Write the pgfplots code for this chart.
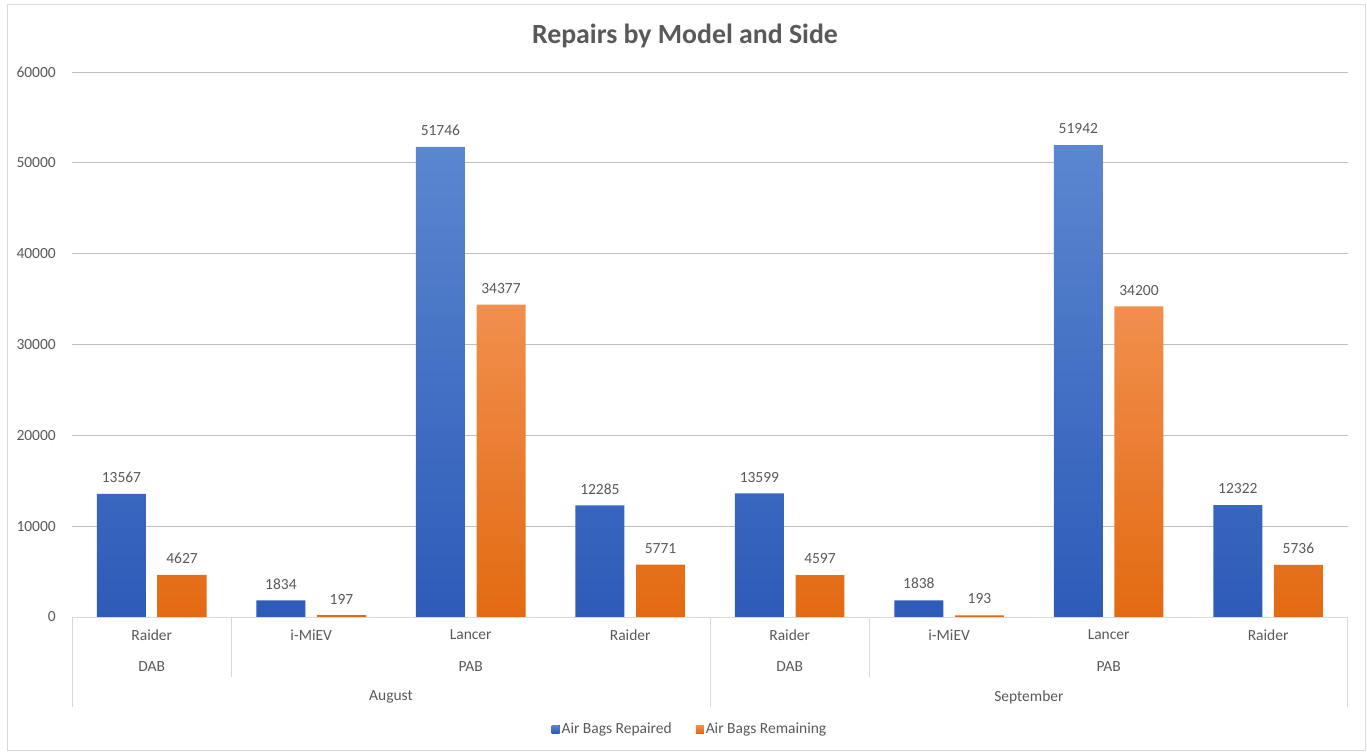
\documentclass[border=0pt]{standalone}
\usepackage{pgfplots}
\pgfplotsset{compat=1.18}
\usepackage{fontspec}
\setmainfont{Carlito}

\definecolor{txt}{HTML}{595959}
\definecolor{grid}{HTML}{D9D9D9}
\definecolor{blueT}{HTML}{5B86D0}
\definecolor{blueB}{HTML}{2D5BB8}
\definecolor{orT}{HTML}{F18F4E}
\definecolor{orB}{HTML}{E36A12}
\tikzset{cat/.style={text=txt}, sep/.style={draw=grid, line width=0.8pt}}

\begin{document}
\begin{tikzpicture}
\useasboundingbox (-72pt,-138pt) rectangle (1295pt,617pt);
\draw[grid,line width=0.8pt] (-65pt,-133pt) rectangle (1293pt,613pt);
\begin{axis}[
  scale only axis,
  width=1276pt, height=545pt,
  xmin=-0.5, xmax=7.5,
  ymin=0, ymax=60000,
  ytick={0,10000,...,60000},
  scaled y ticks=false,
  xtick=\empty,
  axis line style={draw=none},
  major tick length=0pt,
  ymajorgrids,
  grid style={grid, line width=0.8pt},
  font=\fontsize{15.5}{18}\selectfont,
  tick label style={text=txt},
  yticklabel style={anchor=east, inner sep=0pt, xshift=-16pt},
  /pgf/number format/.cd, 1000 sep={}, assume math mode=true, /pgfplots/.cd,
  clip=false,
  bar width=0.307,
  point meta=explicit symbolic,
  nodes near coords,
  nodes near coords style={text=txt, anchor=south, inner sep=0pt, yshift=11pt},
  title={\fontsize{27.8}{32}\selectfont\bfseries Repairs by Model and Side},
  title style={text=txt, at={(0.4804,1.055)}, anchor=center},
  legend style={at={(0.4843,-0.2055)}, anchor=center, draw=none, fill=none,
    text=txt, legend columns=-1,
    /tikz/every even column/.append style={column sep=22pt}},
  legend image code/.code={\fill[#1] (0pt,-4pt) rectangle (8pt,4pt);},
]
\addplot[ybar, bar shift=-0.19, draw=none, top color=blueT, bottom color=blueB,
  every node near coord/.append style={xshift=-30.3pt}]
  coordinates {(0,13567)[13567] (1,1834)[1834] (2,51746)[51746] (3,12285)[12285]
               (4,13599)[13599] (5,1838)[1838] (6,51942)[51942] (7,12322)[12322]};
\addplot[ybar, bar shift=0.19, draw=none, top color=orT, bottom color=orB,
  every node near coord/.append style={xshift=30.3pt}]
  coordinates {(0,4627)[4627] (1,197)[197] (2,34377)[34377] (3,5771)[5771]
               (4,4597)[4597] (5,193)[193] (6,34200)[34200] (7,5736)[5736]};
\legend{Air Bags Repaired, Air Bags Remaining}

% multi-level category axis
\draw[sep] (axis cs:-0.5,0) -- (axis cs:7.5,0);
\draw[sep] (axis cs:-0.5,0) -- ([yshift=-90pt]axis cs:-0.5,0);
\draw[sep] (axis cs:3.5,0) -- ([yshift=-90pt]axis cs:3.5,0);
\draw[sep] (axis cs:7.5,0) -- ([yshift=-90pt]axis cs:7.5,0);
\draw[sep] (axis cs:0.5,0) -- ([yshift=-60pt]axis cs:0.5,0);
\draw[sep] (axis cs:4.5,0) -- ([yshift=-60pt]axis cs:4.5,0);
\node[cat] at ([yshift=-18pt]axis cs:0,0) {Raider};
\node[cat] at ([yshift=-18pt]axis cs:1,0) {i-MiEV};
\node[cat] at ([yshift=-18pt]axis cs:2,0) {Lancer};
\node[cat] at ([yshift=-18pt]axis cs:3,0) {Raider};
\node[cat] at ([yshift=-18pt]axis cs:4,0) {Raider};
\node[cat] at ([yshift=-18pt]axis cs:5,0) {i-MiEV};
\node[cat] at ([yshift=-18pt]axis cs:6,0) {Lancer};
\node[cat] at ([yshift=-18pt]axis cs:7,0) {Raider};
\node[cat] at ([yshift=-50pt]axis cs:0,0) {DAB};
\node[cat] at ([yshift=-50pt]axis cs:2,0) {PAB};
\node[cat] at ([yshift=-50pt]axis cs:4,0) {DAB};
\node[cat] at ([yshift=-50pt]axis cs:6,0) {PAB};
\node[cat] at ([yshift=-80pt]axis cs:1.5,0) {August};
\node[cat] at ([yshift=-80pt]axis cs:5.5,0) {September};
\end{axis}
\end{tikzpicture}
\end{document}
